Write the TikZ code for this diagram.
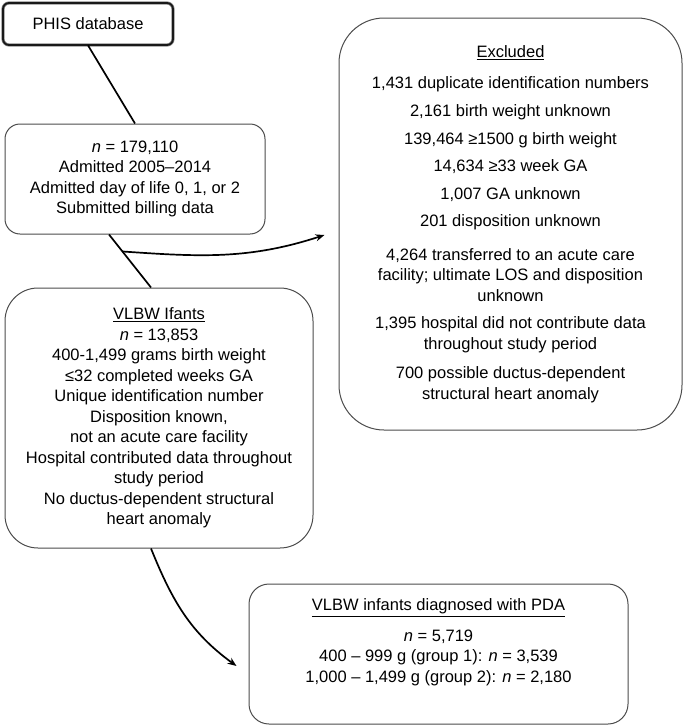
\documentclass[tikz,border=0pt]{standalone}
\usepackage{fontspec}
\setmainfont{Liberation Sans}
\usepackage{tikz}
\usetikzlibrary{calc,positioning,arrows.meta}
\tikzstyle{chart}=[
  >={Stealth[length=9pt,width=7pt]}, x=1pt, y=1pt, font=\fontsize{16.5}{20.5}\selectfont
]
\tikzstyle{box}=[
  draw=black!70, line width=1pt, align=center, inner sep=0pt, fill=white
]
\tikzstyle{sourcebox}=[
  box, rounded corners=6pt, draw=black!45, double=black!90, double distance=1.8pt, line width=0.7pt
]
\tikzstyle{link}=[
  line width=1.7pt
]
\tikzstyle{flowarrow}=[
  line width=1.7pt, ->
]

\begin{document}
\begin{tikzpicture}[chart]
  \useasboundingbox (0,0) rectangle (685,-728);
  % boxes
  \node (phis) at (88,-24) [sourcebox, minimum width=170pt, minimum height=42pt] {PHIS database};
  \node (cohort) at (135,-179) [box, rounded corners=15pt, minimum width=260pt, minimum height=110pt]
    {\textit{n} = 179,110\\Admitted 2005–2014\\Admitted day of life 0, 1, or 2\\Submitted billing data};
  \node (vlbw) at (159,-418) [box, rounded corners=33pt, minimum width=308pt, minimum height=260pt]
    {\underline{VLBW Ifants}\\\textit{n} = 13,853\\400-1,499 grams birth weight\\≤32 completed weeks GA\\
     Unique identification number\\Disposition known,\\not an acute care facility\\
     Hospital contributed data throughout\\study period\\No ductus-dependent structural\\heart anomaly};
  \node (excluded) at (510.5,-224) [box, rounded corners=45pt, minimum width=343pt, minimum height=412pt]
    {\underline{Excluded}\\[10pt]
     1,431 duplicate identification numbers\\[8pt]
     2,161 birth weight unknown\\[7pt]
     139,464 ≥1500 g birth weight\\[7pt]
     14,634 ≥33 week GA\\[7pt]
     1,007 GA unknown\\[7pt]
     201 disposition unknown\\[13pt]
     4,264 transferred to an acute care\\facility; ultimate LOS and disposition\\unknown\\[7pt]
     1,395 hospital did not contribute data\\throughout study period\\[9pt]
     700 possible ductus-dependent\\structural heart anomaly};
  \node (pda) at (438.5,-654) [box, rounded corners=20pt, minimum width=379pt, minimum height=140pt]
    {\underline{VLBW infants diagnosed with PDA}\\[10pt]
     \textit{n} = 5,719\\400 – 999 g (group 1): \textit{n} = 3,539\\
     1,000 – 1,499 g (group 2): \textit{n} = 2,180\\[6pt]\mbox{}};
  % connectors
  \draw [link] (phis.south) -- (cohort.north);
  \draw [link] ($(cohort.south)+(-26,0)$) -- coordinate[pos=0.32] (split) ($(vlbw.north)+(-8,0)$);
  \coordinate (exin) at ($(excluded.west)+(-14,-11)$);
  \draw [flowarrow] (split) to[out=-4,in=198] (exin);
  \coordinate (pdain) at ($(pda.west)+(-12,-12)$);
  \draw [flowarrow] ($(vlbw.south)+(-8,0)$) to[out=-68,in=144] (pdain);
\end{tikzpicture}
\end{document}
